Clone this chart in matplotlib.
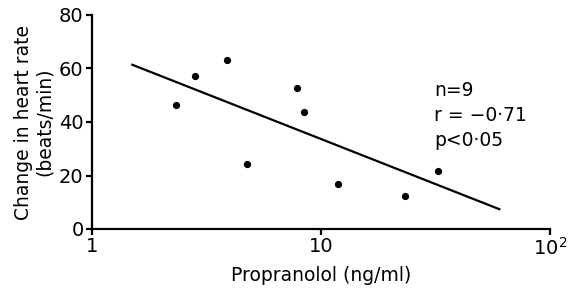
import matplotlib
matplotlib.use("Agg")
import matplotlib.pyplot as plt

# Propranolol concentration (ng/ml) vs change in heart rate (beats/min)
propranolol = [2.33, 2.81, 3.87, 4.77, 7.88, 8.43, 11.9, 23.3, 32.4]
heart_rate_change = [46.2, 57.2, 63.2, 24.2, 52.8, 43.9, 16.7, 12.2, 21.8]

# regression line end points
fit_x = [1.50, 60.1]
fit_y = [61.4, 7.4]

x_ticks = [1, 10, 100]
x_tick_labels = ["1", "10", "$10^2$"]
y_ticks = [0, 20, 40, 60, 80]
stats_text = ["n=9", "r = \u22120\u00b771", "p<0\u00b705"]

plt.rcParams["font.family"] = ["DejaVu Sans"]
plt.rcParams["mathtext.default"] = "regular"

fig = plt.figure(figsize=(5.76, 2.91), dpi=100)
ax = fig.add_axes([92 / 576, 1 - 229 / 291, 458 / 576, 214 / 291])

ax.plot(propranolol, heart_rate_change, "o", color="black", markersize=4.2)
ax.plot(fit_x, fit_y, "-", color="black", linewidth=1.6)

ax.set_xscale("log")
ax.set_xlim(1, 100)
ax.set_ylim(0, 80)
ax.set_xticks(x_ticks)
ax.set_xticklabels(x_tick_labels)
ax.minorticks_off()
ax.set_yticks(y_ticks)

for side in ["top", "right"]:
    ax.spines[side].set_visible(False)
for side in ["left", "bottom"]:
    ax.spines[side].set_linewidth(1.6)
ax.tick_params(axis="both", direction="out", length=4, width=1.6,
               labelsize=14, pad=2)

ax.set_xlabel("Propranolol (ng/ml)", fontsize=13.5, labelpad=5)
ax.set_ylabel("Change in heart rate\n(beats/min)", fontsize=13.5,
              linespacing=1.1, labelpad=4)

for i, s in enumerate(stats_text):
    fig.text(434 / 576, 1 - (91 + i * 24.5) / 291, s, fontsize=13.5,
             va="center", ha="left")

fig.savefig("out.png", dpi=100)
